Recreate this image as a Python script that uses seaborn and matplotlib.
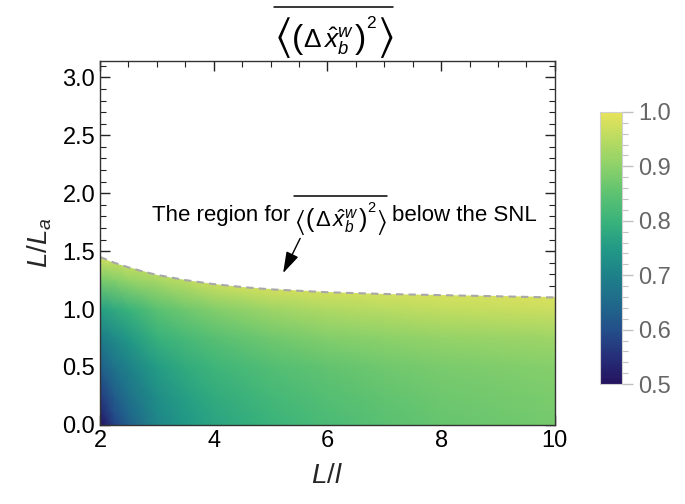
import numpy as np
import matplotlib
matplotlib.use('Agg')
import matplotlib.pyplot as plt
import seaborn as sns
from matplotlib.colors import LinearSegmentedColormap
from matplotlib.patches import Polygon
from matplotlib.lines import Line2D
from matplotlib.transforms import IdentityTransform
from matplotlib.ticker import MultipleLocator, FormatStrFormatter

# ---- data ----
x_vals = [2, 2.25, 2.5, 3, 3.5, 4, 5, 6, 7, 8, 10]          # L/l
y_vals = [0, 0.1, 0.25, 0.5, 0.75, 1.0, 1.25, 1.5]           # L/L_a
z_y000 = [0.50, 0.58, 0.63, 0.71, 0.745, 0.77, 0.80, 0.825, 0.845, 0.86, 0.875]
z_y010 = [0.53, 0.60, 0.645, 0.715, 0.75, 0.775, 0.805, 0.83, 0.848, 0.862, 0.877]
z_y025 = [0.57, 0.625, 0.665, 0.725, 0.76, 0.785, 0.815, 0.838, 0.855, 0.868, 0.882]
z_y050 = [0.63, 0.67, 0.70, 0.755, 0.785, 0.805, 0.835, 0.855, 0.87, 0.88, 0.893]
z_y075 = [0.69, 0.72, 0.745, 0.795, 0.82, 0.84, 0.87, 0.89, 0.90, 0.91, 0.92]
z_y100 = [0.76, 0.78, 0.80, 0.845, 0.87, 0.89, 0.92, 0.94, 0.95, 0.96, 0.97]
z_y125 = [0.88, 0.89, 0.91, 0.93, 0.955, 0.98, 1.01, 1.03, 1.04, 1.05, 1.06]
z_y150 = [1.03, 1.03, 1.04, 1.05, 1.08, 1.10, 1.12, 1.14, 1.15, 1.16, 1.17]

boundary_x = [2, 2.25, 2.5, 2.75, 3, 3.5, 4, 4.5, 5, 6, 7, 8, 9, 10]
boundary_y = [1.45, 1.40, 1.36, 1.325, 1.295, 1.25, 1.215, 1.19, 1.17, 1.145, 1.13, 1.12, 1.11, 1.10]

cbar_ticks = [0.5, 0.6, 0.7, 0.8, 0.9, 1.0]
cmap_colors = ['#24135e', '#262f7a', '#234f8a', '#1f6a8b', '#1e8189', '#229a86',
               '#3ab37b', '#5dc271', '#8cd16a', '#b8db62', '#e8e35a']

note_left = 'The region for'
note_right = 'below the SNL'
quantity_core = r'$\Delta\,\hat{x}_b^w$'

# ---- style ----
sns.set_theme(style='ticks')
plt.rcParams['font.family'] = ['Liberation Sans', 'DejaVu Sans']
plt.rcParams['mathtext.fontset'] = 'custom'
plt.rcParams['mathtext.rm'] = 'Liberation Sans'
plt.rcParams['mathtext.it'] = 'Liberation Sans:italic'
plt.rcParams['mathtext.bf'] = 'Liberation Sans:bold'
plt.rcParams['mathtext.fallback'] = 'stixsans'

W, H = 685, 504
fig = plt.figure(figsize=(6.85, 5.04), dpi=100)
ax = fig.add_axes([0.146, 0.157, 0.664, 0.722])
renderer = fig.canvas.get_renderer()

cmap = LinearSegmentedColormap.from_list('mviridis', cmap_colors)
X, Y = np.meshgrid(x_vals, y_vals)
Z = np.array([z_y000, z_y010, z_y025, z_y050, z_y075, z_y100, z_y125, z_y150])
mesh = ax.pcolormesh(X, Y, Z, shading='gouraud', cmap=cmap, vmin=0.5, vmax=1.0)

poly = Polygon(np.column_stack([boundary_x + [10, 2], boundary_y + [0, 0]]),
               closed=True, transform=ax.transData, facecolor='none', edgecolor='none')
ax.add_patch(poly)
mesh.set_clip_path(poly)

sns.lineplot(x=boundary_x, y=boundary_y, ax=ax, color='#a8a8a8', linewidth=1.5,
             linestyle=(0, (3.5, 2.5)), sort=False)

ax.set_xlim(2, 10)
ax.set_ylim(0, np.pi)
ax.xaxis.set_major_locator(MultipleLocator(2))
ax.xaxis.set_minor_locator(MultipleLocator(0.5))
ax.yaxis.set_major_locator(MultipleLocator(0.5))
ax.yaxis.set_minor_locator(MultipleLocator(0.1))
ax.yaxis.set_major_formatter(FormatStrFormatter('%.1f'))
ax.tick_params(which='both', direction='in', top=True, right=True, colors='#222222',
               labelcolor='black', labelsize=17)
ax.tick_params(which='major', length=7, width=1)
ax.tick_params(which='minor', length=4, width=0.8)
for s in ax.spines.values():
    s.set_color('#333333')
    s.set_linewidth(1)

ax.set_xlabel(r'$L/l$', fontsize=20, labelpad=8)
ax.set_ylabel(r'$L/L_a$', fontsize=20, labelpad=6)


# ---- helpers for the overlined bracket expression (pixel layout, y from top) ----
def ptext(x, y_top, s, size, va='baseline', mf='custom'):
    t = fig.text(x, H - y_top, s, transform=IdentityTransform(), fontsize=size,
                 va=va, ha='left', color='black')
    t.set_math_fontfamily(mf)
    return t, t.get_window_extent(renderer)


def fit_glyph(s, x, y_top, y_bot):
    t, bb = ptext(x, y_bot, s, 20, va='bottom', mf='stix')
    t.set_fontsize(20 * (y_bot - y_top) / bb.height)
    return t, t.get_window_extent(renderer)


def bracket_expr(x0, base, core_size, br_top, br_bot, par_size, two_size, two_rise,
                 over_y, gap=0.5):
    _, b = fit_glyph(r'$\langle$', x0, base - br_top, base + br_bot)
    _, b = ptext(b.x1 + gap, base, '(', par_size)
    _, b = ptext(b.x1 + gap, base, quantity_core, core_size)
    _, b = ptext(b.x1 + gap, base, ')', par_size)
    _, b = ptext(b.x1 + gap, base - two_rise, '2', two_size)
    _, b = fit_glyph(r'$\rangle$', b.x1 + gap, base - br_top, base + br_bot)
    fig.add_artist(Line2D([x0, b.x1], [H - over_y, H - over_y], transform=IdentityTransform(),
                          color='black', lw=1.1))
    return b.x1


# title
bracket_expr(274, 48, 19, 36, 12, 24, 12.5, 20, 6.5)

# annotation text
_, bl = ptext(152, 221, note_left, 16)
xr = bracket_expr(bl.x1 + 4, 227, 16, 19, 10, 18, 10.5, 15, 195.5)
ptext(xr + 5, 221, note_right, 16)

ax.annotate('', xy=(5.22, 1.31), xytext=(5.52, 1.61),
            arrowprops=dict(arrowstyle='-|>,head_length=0.65,head_width=0.2',
                            color='black', lw=1, mutation_scale=20,
                            shrinkA=0, shrinkB=0))

# ---- colorbar ----
cax = fig.add_axes([0.876, 0.238, 0.032, 0.540])
cb = fig.colorbar(mesh, cax=cax, ticks=cbar_ticks)
cb.outline.set_edgecolor('#d0d0d0')
cb.outline.set_linewidth(0.8)
cax.yaxis.set_major_formatter(FormatStrFormatter('%.1f'))
cax.yaxis.set_minor_locator(MultipleLocator(0.02))
cax.tick_params(which='both', colors='#c0c0c0', labelcolor='#666666', labelsize=17)
cax.tick_params(which='major', length=8, width=1)
cax.tick_params(which='minor', length=4, width=0.8)

fig.savefig('out.png', dpi=100)
